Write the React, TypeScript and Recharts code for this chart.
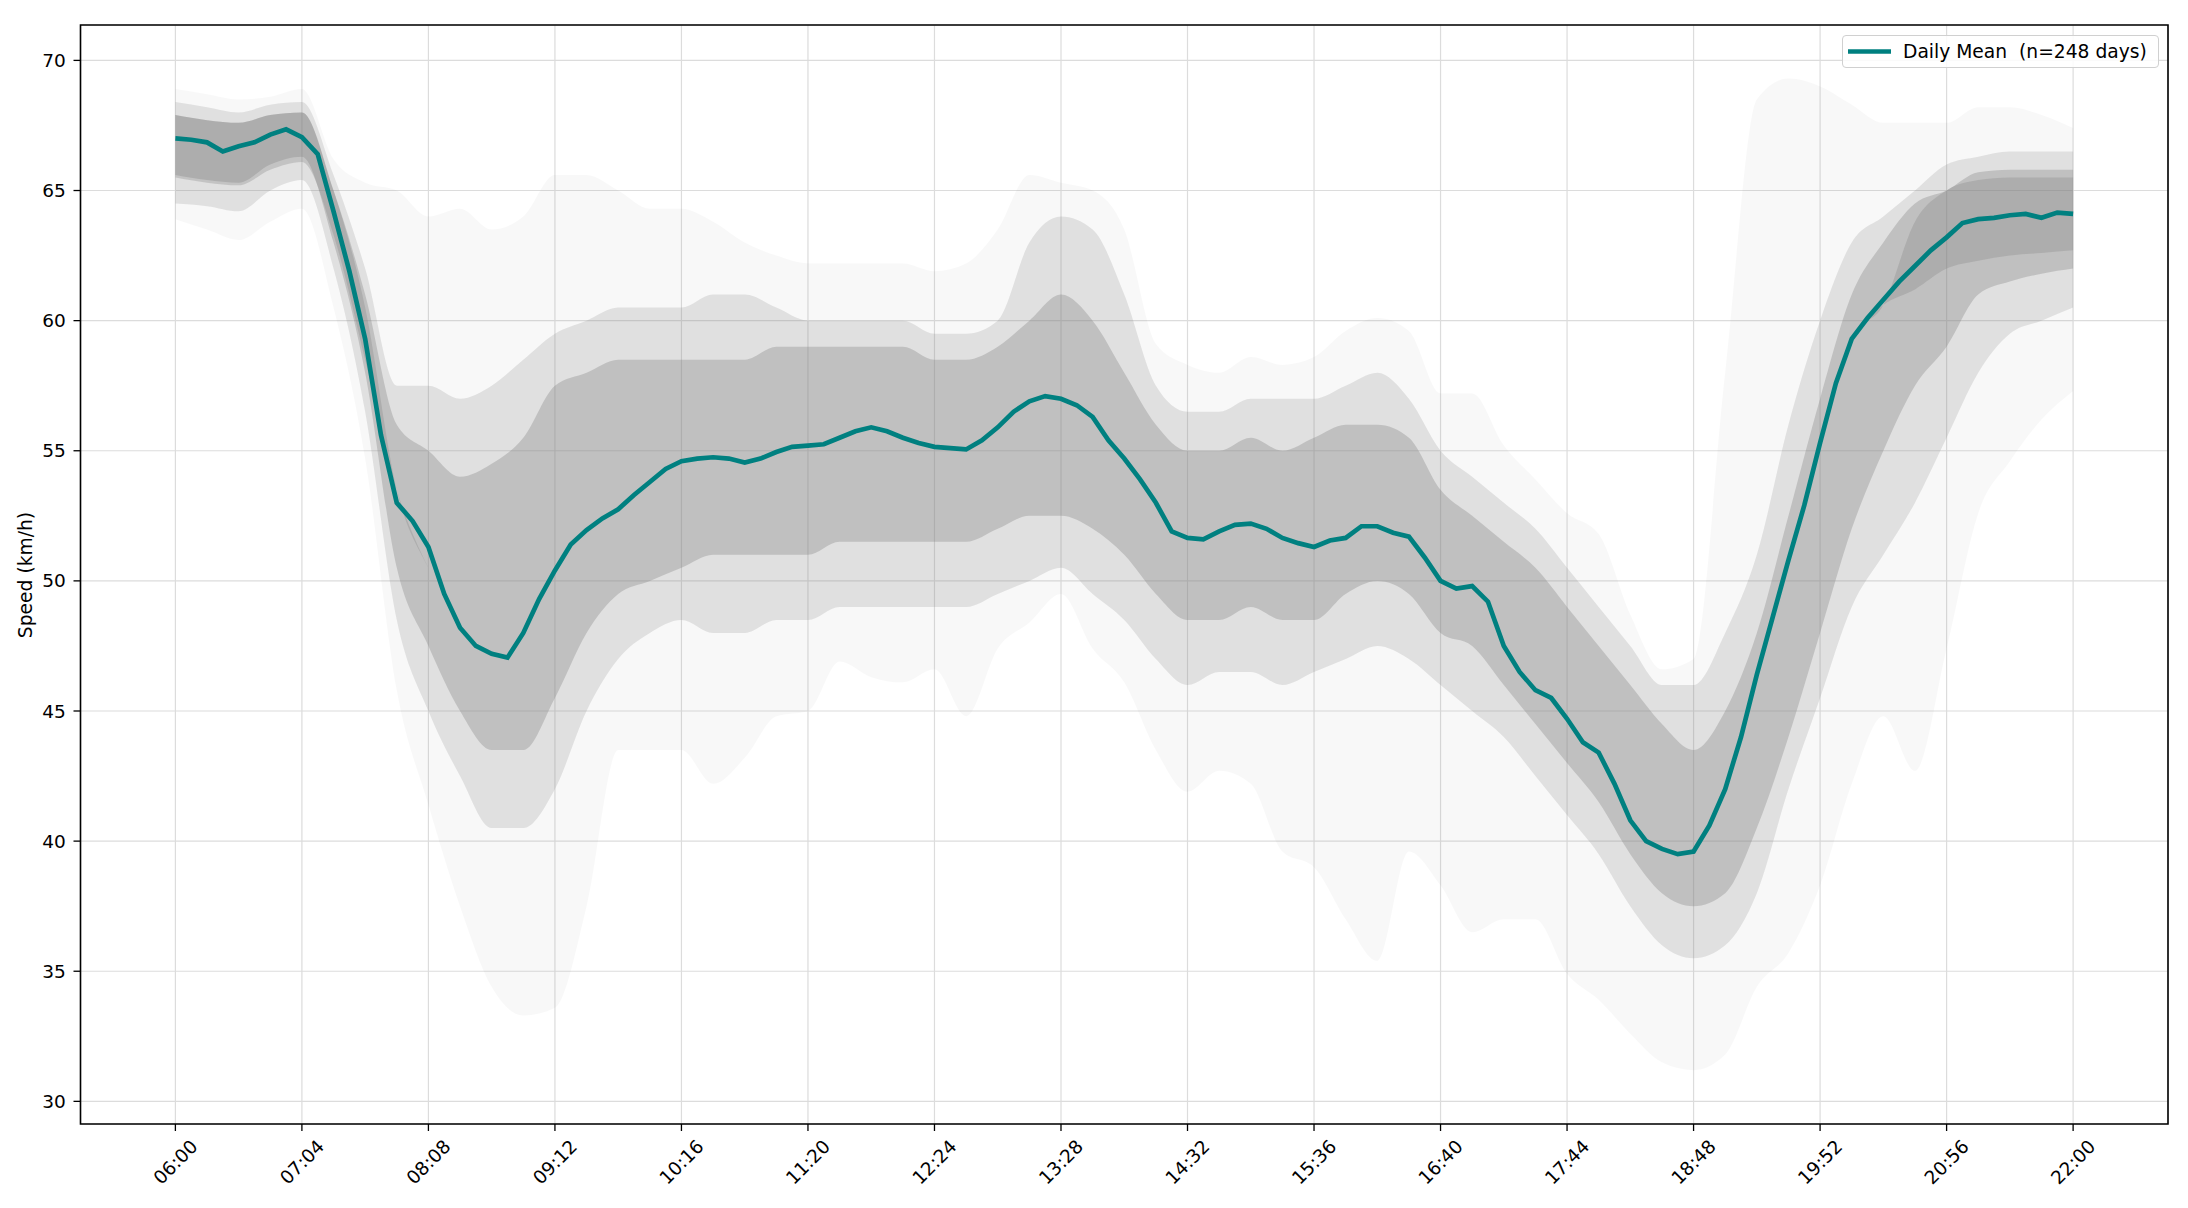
import React from 'react';
import {
  ComposedChart,
  Line,
  Area,
  XAxis,
  YAxis,
  CartesianGrid,
  Legend,
  ReferenceArea,
} from 'recharts';

// ---- time axis (minutes after 06:00) ----
const xTicks = [0, 64, 128, 192, 256, 320, 384, 448, 512, 576, 640, 704, 768, 832, 896, 960];
const xTickLabels = ['06:00', '07:04', '08:08', '09:12', '10:16', '11:20', '12:24', '13:28', '14:32', '15:36', '16:40', '17:44', '18:48', '19:52', '20:56', '22:00'];
const yTicks = [30, 35, 40, 45, 50, 55, 60, 65, 70];

// ---- daily mean (teal line), every 8 minutes ----
const meanTimes = [
  0, 8, 16, 24, 32, 40, 48, 56, 64, 72, 80, 88, 96, 104, 112, 120, 128, 136, 144, 152,
  160, 168, 176, 184, 192, 200, 208, 216, 224, 232, 240, 248, 256, 264, 272, 280, 288, 296, 304, 312,
  320, 328, 336, 344, 352, 360, 368, 376, 384, 392, 400, 408, 416, 424, 432, 440, 448, 456, 464, 472,
  480, 488, 496, 504, 512, 520, 528, 536, 544, 552, 560, 568, 576, 584, 592, 600, 608, 616, 624, 632,
  640, 648, 656, 664, 672, 680, 688, 696, 704, 712, 720, 728, 736, 744, 752, 760, 768, 776, 784, 792,
  800, 808, 816, 824, 832, 840, 848, 856, 864, 872, 880, 888, 896, 904, 912, 920, 928, 936, 944, 952, 960,
];
const meanSpeed = [
  67.0, 66.95, 66.85, 66.5, 66.7, 66.85, 67.15, 67.35, 67.05, 66.4, 64.2, 61.9, 59.3, 55.6, 53.0, 52.3, 51.3, 49.5, 48.2, 47.5,
  47.2, 47.05, 48.0, 49.3, 50.4, 51.4, 51.95, 52.4, 52.75, 53.3, 53.8, 54.3, 54.6, 54.7, 54.75, 54.7, 54.55, 54.7, 54.95, 55.15,
  55.2, 55.25, 55.5, 55.75, 55.9, 55.75, 55.5, 55.3, 55.15, 55.1, 55.05, 55.4, 55.9, 56.5, 56.9, 57.1, 57.0, 56.75, 56.3, 55.4,
  54.7, 53.9, 53.0, 51.9, 51.65, 51.6, 51.9, 52.15, 52.2, 52.0, 51.65, 51.45, 51.3, 51.55, 51.65, 52.1, 52.1, 51.85, 51.7, 50.9,
  50.0, 49.7, 49.8, 49.2, 47.5, 46.5, 45.8, 45.5, 44.7, 43.8, 43.4, 42.2, 40.8, 40.0, 39.7, 39.5, 39.6, 40.6, 42.0, 44.0,
  46.4, 48.6, 50.8, 52.9, 55.3, 57.6, 59.3, 60.1, 60.8, 61.5, 62.1, 62.7, 63.2, 63.75, 63.9, 63.95, 64.05, 64.1, 63.95, 64.15, 64.1,
];

// ---- spread of the individual days (read as envelopes), every 16 minutes ----
const bandTimes = [
  0, 16, 32, 48, 64, 80, 96, 112, 128, 144, 160, 176, 192, 208, 224, 240, 256, 272, 288, 304,
  320, 336, 352, 368, 384, 400, 416, 432, 448, 464, 480, 496, 512, 528, 544, 560, 576, 592, 608, 624,
  640, 656, 672, 688, 704, 720, 736, 752, 768, 784, 800, 816, 832, 848, 864, 880, 896, 912, 928, 944, 960,
];
const outerLow = [
  63.9, 63.5, 63.1, 63.8, 64.3, 60.5, 54.7, 45.8, 41.4, 37.5, 34.4, 33.3, 33.6, 37.5, 43.5, 43.5, 43.5, 42.2, 43.2, 44.8,
  45.0, 46.9, 46.3, 46.1, 46.6, 44.8, 47.4, 48.4, 49.5, 47.4, 46.1, 43.5, 41.9, 42.7, 42.2, 39.6, 39.0, 37.0, 35.4, 39.6,
  38.3, 36.5, 37.0, 37.0, 34.9, 33.9, 32.6, 31.5, 31.2, 31.8, 34.4, 35.7, 38.3, 42.2, 44.8, 42.7, 47.4, 52.6, 54.6, 56.2, 57.3,
];
const outerHigh = [
  68.9, 68.7, 68.5, 68.6, 68.9, 66.2, 65.3, 65.0, 64.0, 64.3, 63.5, 64.0, 65.6, 65.6, 65.0, 64.3, 64.3, 63.8, 63.0, 62.5,
  62.2, 62.2, 62.2, 62.2, 61.9, 62.2, 63.5, 65.6, 65.3, 65.0, 63.5, 59.1, 58.3, 58.0, 58.6, 58.3, 58.6, 59.6, 60.1, 59.6,
  57.2, 57.2, 55.2, 53.9, 52.6, 51.8, 48.7, 46.6, 47.0, 58.0, 68.5, 69.3, 69.0, 68.3, 67.6, 67.6, 67.6, 68.2, 68.2, 67.9, 67.4,
];
const midLow = [
  64.5, 64.4, 64.2, 65.0, 65.4, 62.0, 56.5, 48.5, 45.0, 42.5, 40.5, 40.5, 42.0, 45.0, 47.0, 48.0, 48.5, 48.0, 48.0, 48.5,
  48.5, 49.0, 49.0, 49.0, 49.0, 49.0, 49.5, 50.0, 50.5, 49.5, 48.5, 47.0, 46.0, 46.5, 46.5, 46.0, 46.5, 47.0, 47.5, 47.0,
  46.0, 45.0, 44.0, 42.5, 41.0, 39.5, 37.5, 36.0, 35.5, 36.0, 38.0, 42.0, 45.5, 49.0, 51.0, 53.0, 55.5, 58.0, 59.5, 60.0, 60.5,
];
const midHigh = [
  68.4, 68.2, 68.0, 68.3, 68.4, 65.6, 62.0, 57.5, 57.5, 57.0, 57.5, 58.5, 59.5, 60.0, 60.5, 60.5, 60.5, 61.0, 61.0, 60.5,
  60.0, 60.0, 60.0, 60.0, 59.5, 59.5, 60.0, 63.0, 64.0, 63.5, 61.0, 57.5, 56.5, 56.5, 57.0, 57.0, 57.0, 57.5, 58.0, 57.0,
  55.0, 54.0, 53.0, 52.0, 50.5, 49.0, 47.5, 46.0, 46.0, 48.0, 51.0, 56.0, 60.0, 63.0, 64.0, 65.0, 66.0, 66.3, 66.5, 66.5, 66.5,
];
const coreLow = [
  65.6, 65.4, 65.3, 66.0, 66.3, 63.0, 58.0, 50.5, 47.5, 45.0, 43.5, 43.5, 45.5, 48.0, 49.5, 50.0, 50.5, 51.0, 51.0, 51.0,
  51.0, 51.5, 51.5, 51.5, 51.5, 51.5, 52.0, 52.5, 52.5, 52.0, 51.0, 49.5, 48.5, 48.5, 49.0, 48.5, 48.5, 49.5, 50.0, 49.5,
  48.0, 47.5, 46.0, 44.5, 43.0, 41.5, 39.5, 38.0, 37.5, 38.0, 40.5, 44.0, 48.0, 52.0, 55.0, 57.5, 59.0, 61.0, 61.5, 61.8, 62.0,
];
const coreHigh = [
  67.9, 67.7, 67.6, 67.9, 68.0, 65.0, 61.0, 56.0, 55.0, 54.0, 54.5, 55.5, 57.5, 58.0, 58.5, 58.5, 58.5, 58.5, 58.5, 59.0,
  59.0, 59.0, 59.0, 59.0, 58.5, 58.5, 59.0, 60.0, 61.0, 60.0, 58.0, 56.0, 55.0, 55.0, 55.5, 55.0, 55.5, 56.0, 56.0, 55.5,
  53.5, 52.5, 51.5, 50.5, 49.0, 47.5, 46.0, 44.5, 43.5, 45.0, 48.0, 52.5, 57.0, 61.0, 63.0, 64.5, 65.0, 65.7, 65.8, 65.8, 65.8,
];
// densest bundle (morning plateau, early drop, evening plateau); zero width elsewhere
const denseLow = [
  65.5, 65.3, 65.2, 65.8, 66.1, 63.3, 58.5, 53.5, 50.5, 48.5, 48.0, 49.5, 51.5, 53.0, 53.5, 54.0, 54.5, 54.5, 54.5, 54.7,
  55.0, 55.2, 55.5, 55.4, 55.1, 55.1, 55.8, 56.8, 57.0, 56.3, 54.7, 53.0, 51.6, 51.8, 52.2, 51.6, 51.3, 51.6, 52.1, 51.7,
  50.0, 49.8, 47.5, 45.8, 44.7, 43.4, 40.8, 39.7, 39.6, 42.0, 46.4, 50.8, 55.3, 59.3, 60.6, 61.2, 62.0, 62.3, 62.5, 62.6, 62.7,
];
const denseHigh = [
  67.9, 67.7, 67.6, 67.9, 68.0, 65.0, 60.5, 53.5, 50.5, 48.5, 48.0, 49.5, 51.5, 53.0, 53.5, 54.0, 54.5, 54.5, 54.5, 54.7,
  55.0, 55.2, 55.5, 55.4, 55.1, 55.1, 55.8, 56.8, 57.0, 56.3, 54.7, 53.0, 51.6, 51.8, 52.2, 51.6, 51.3, 51.6, 52.1, 51.7,
  50.0, 49.8, 47.5, 45.8, 44.7, 43.4, 40.8, 39.7, 39.6, 42.0, 46.4, 50.8, 55.3, 59.3, 60.6, 63.8, 65.0, 65.4, 65.5, 65.5, 65.5,
];

const X_DOMAIN: [number, number] = [-48, 1008];
const Y_DOMAIN: [number, number] = [29.13, 71.36];
const FONT = '"DejaVu Sans", sans-serif';
const TEAL = '#008080';

const meanRows = meanTimes.map((t, i) => ({ t, mean: meanSpeed[i] }));
const bandRows = bandTimes.map((t, i) => ({
  t,
  outer: [outerLow[i], outerHigh[i]],
  mid: [midLow[i], midHigh[i]],
  core: [coreLow[i], coreHigh[i]],
  dense: [denseLow[i], denseHigh[i]],
}));

const XTick = (props: any) => {
  const { x, y, payload } = props;
  const idx = xTicks.indexOf(payload.value);
  const label = idx >= 0 ? xTickLabels[idx] : '';
  const cy = y + 31;
  return (
    <text
      x={x}
      y={cy}
      textAnchor="middle"
      dominantBaseline="central"
      transform={`rotate(-45 ${x} ${cy})`}
      fontSize={18.5}
      fontFamily={FONT}
      fill="#000"
    >
      {label}
    </text>
  );
};

const YLabel = () => (
  <text
    x={17}
    y={567}
    textAnchor="middle"
    dominantBaseline="central"
    transform="rotate(-90 17 567)"
    fontSize={18.7}
    fontFamily={FONT}
    fill="#000"
  >
    Speed (km/h)
  </text>
);

const LegendBox = () => (
  <div
    style={{
      boxSizing: 'border-box',
      width: 317,
      height: 33,
      border: '1.3px solid #d0d0d0',
      borderRadius: 4,
      background: 'rgba(255,255,255,0.85)',
      display: 'flex',
      alignItems: 'center',
      fontFamily: FONT,
      fontSize: 18.7,
      color: '#000',
    }}
  >
    <svg width={60} height={31} style={{ flex: '0 0 auto' }}>
      <line x1={5} x2={48} y1={15.5} y2={15.5} stroke={TEAL} strokeWidth={4.7} />
    </svg>
    <span style={{ whiteSpace: 'pre', lineHeight: '31px' }}>Daily Mean  (n=248 days)</span>
  </div>
);

const bandStyle = { type: 'monotone' as const, stroke: 'none', fill: '#808080', isAnimationActive: false, legendType: 'none' as const, activeDot: false };

export default function App() {
  return (
    <div style={{ width: 2172, height: 1190, position: 'relative', background: '#fff' }}>
      <ComposedChart
        width={2172}
        height={1190}
        margin={{ top: 17, right: 12, bottom: 0, left: 0 }}
        style={{ fontFamily: FONT }}
      >
        <CartesianGrid stroke="#dcdcdc" strokeWidth={1.2} horizontal vertical />
        <XAxis
          dataKey="t"
          type="number"
          domain={X_DOMAIN}
          allowDataOverflow
          ticks={xTicks}
          interval={0}
          height={74}
          tickSize={7}
          tickMargin={0}
          axisLine={false}
          tickLine={{ stroke: '#000', strokeWidth: 1.3 }}
          tick={<XTick />}
        />
        <YAxis
          type="number"
          domain={Y_DOMAIN}
          allowDataOverflow
          ticks={yTicks}
          interval={0}
          width={72.5}
          tickSize={7}
          tickMargin={7.8}
          axisLine={false}
          tickLine={{ stroke: '#000', strokeWidth: 1.3 }}
          tick={{ fill: '#000', fontSize: 18.5, fontFamily: FONT }}
          label={{ content: () => <YLabel /> }}
        />
        <Area data={bandRows} dataKey="outer" fillOpacity={0.055} {...bandStyle} />
        <Area data={bandRows} dataKey="mid" fillOpacity={0.2} {...bandStyle} />
        <Area data={bandRows} dataKey="core" fillOpacity={0.33} {...bandStyle} />
        <Area data={bandRows} dataKey="dense" fillOpacity={0.3} {...bandStyle} />
        <Line
          data={meanRows}
          dataKey="mean"
          name="Daily Mean  (n=248 days)"
          type="linear"
          stroke={TEAL}
          strokeWidth={4.7}
          dot={false}
          activeDot={false}
          isAnimationActive={false}
        />
        <ReferenceArea
          x1={X_DOMAIN[0]}
          x2={X_DOMAIN[1]}
          y1={Y_DOMAIN[0]}
          y2={Y_DOMAIN[1]}
          fill="none"
          fillOpacity={0}
          stroke="#000"
          strokeWidth={1.6}
          ifOverflow="visible"
        />
        <Legend
          layout="vertical"
          align="center"
          verticalAlign="middle"
          wrapperStyle={{ position: 'absolute', top: 27, left: 1834, width: 317, height: 33 }}
          content={() => <LegendBox />}
        />
      </ComposedChart>
    </div>
  );
}
